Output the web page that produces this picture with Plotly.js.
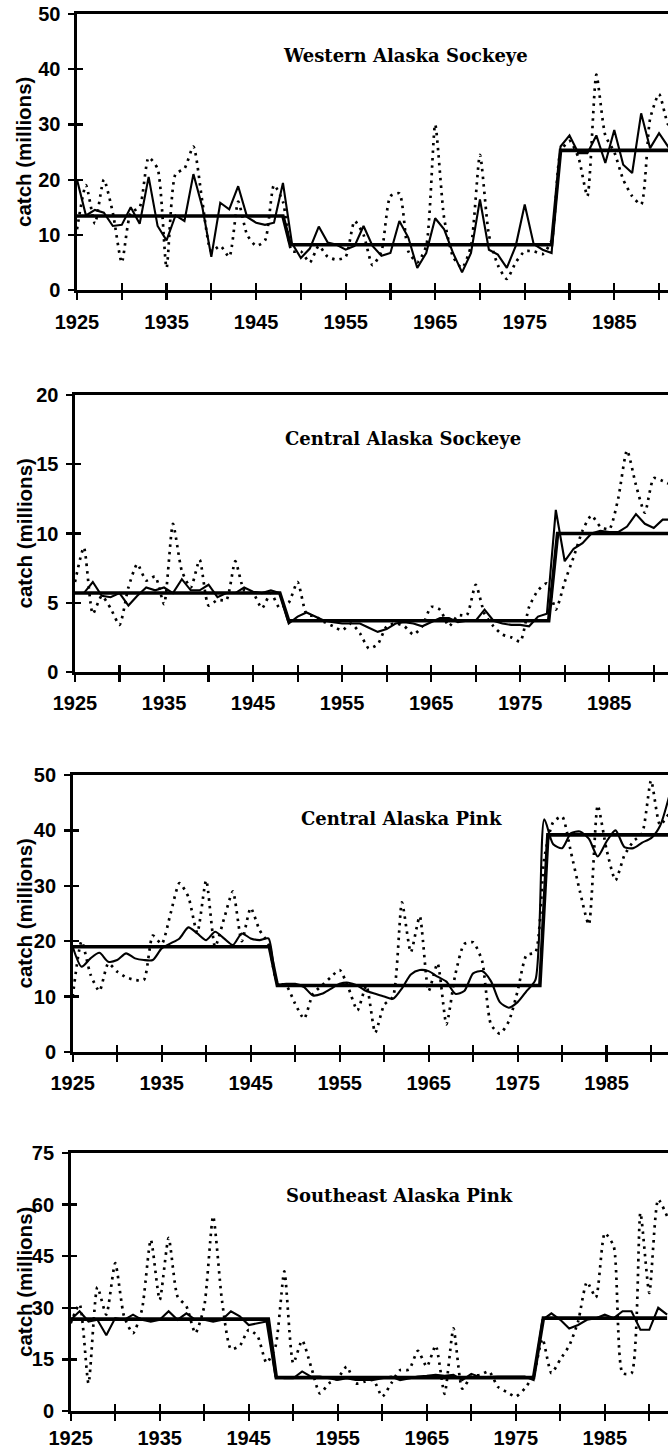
<!DOCTYPE html>
<html>
<head>
<meta charset="utf-8">
<script src="https://cdn.plot.ly/plotly-3.0.1.min.js"></script>
<style>html,body{margin:0;padding:0;background:#fff;} #chart{width:668px;height:1452px;}</style>
</head>
<body>
<div id="chart"></div>
<script>
// ---------- DATA ----------
var years = [];
for (var yr = 1925; yr <= 1992; yr++) years.push(yr);

var panelTitles = ["Western Alaska Sockeye", "Central Alaska Sockeye", "Central Alaska Pink", "Southeast Alaska Pink"];
var yAxisTitle = "catch (millions)";

// Western Alaska Sockeye (1925-1992)
var wasAnnual = [11,19,12,20,14,5,14,15,24,22,4,21,22,26,16,7,8,6,16,10,8,9,19,16,7,7,5,8,6,5.5,6,12.5,10,4.5,7,17,17.5,7,5,8,30,13,6,4,8,24.5,10,4.5,2,5,7,7,6.5,9,25,27,24,17,39,28,25,20,17,15.5,31,35.5,30,28];
var wasSmooth = [20,13.5,14.5,14,11.6,11.8,15,12,20.5,11.6,9,13.5,12.5,21,15,6,15.8,14.6,18.8,13.2,12.2,11.8,12.2,19.4,8.5,5.8,7.5,11.5,8.6,8.2,7.3,8,11.6,8,6.2,6.7,12.5,9.5,4,6.7,13,11,6.7,3.2,6.7,16.4,7.3,6.4,4,8,15.5,8.3,7.3,6.7,26,28,24.8,24.8,28,23,29,22.7,21.2,32,25.7,28.4,26,27];
var wasRegimeYears = [1925,1948,1948.8,1978,1979,1992];
var wasRegimeMeans = [13.4,13.4,8.2,8.2,25.3,25.3];

// Central Alaska Sockeye
var casAnnual = [6.5,9,4.2,5.5,4.6,3.4,6.1,7.8,6.6,6.9,4.9,10.7,7.3,6.1,8.1,4.8,5.2,5.2,8,5.9,5.7,4.6,5.7,4.6,5,6.5,4.2,4,3.6,3.3,3,3.5,2.8,1.7,2,3.3,3.5,3.3,2.7,3.3,4.7,4.5,3.3,4.1,4.1,6.3,4.2,3.3,2.7,2.5,2.2,4.7,5.9,6.4,4.5,6.5,8.3,10.2,11.3,10.5,10.3,12.5,16,13.5,11.5,14,13.8,13.5];
var casSmooth = [5.7,5.7,6.5,5.5,5.4,5.7,4.8,5.5,6.1,5.9,6.1,5.7,6.7,5.9,5.9,6.3,5.4,5.7,5.7,6.1,5.8,5.7,5.9,5.7,3.5,4,4.3,4,3.7,3.6,3.5,3.5,3.5,3.2,2.9,3.1,3.5,3.6,3.5,3.3,3.6,3.9,3.9,3.6,3.7,3.7,4.5,3.7,3.5,3.4,3.4,3.3,4,4.2,11.7,8,8.9,9.3,10,10.2,10.1,10.1,10.5,11.4,10.7,10.4,11,11];
var casRegimeYears = [1925,1948,1949,1978.2,1979.2,1992];
var casRegimeMeans = [5.7,5.7,3.7,3.7,10,10];

// Central Alaska Pink
var capAnnual = [10,20,14,11,16,14.5,13.5,13,13,21,19.5,25,30.5,28,21.5,31,19,24,29,20,26,22,19.5,12.5,12,8.7,6,10.5,12,13.5,14.8,11.5,7.5,12,3.5,8.5,10,27,18,24.5,11,16,5,14,19.5,19.8,16.5,5,3.3,5.5,11,17.5,18,35,41.5,42.5,36,29,23,44.5,36.5,31,35.5,38,39.5,49,41,43];
var capSmooth = [19,15.4,16.9,17.9,16.3,16.6,17.8,16.9,16.6,16.6,18.7,19.6,20.5,22.5,21.4,20.2,21.7,20.5,19.3,21.4,20.5,20.2,20.5,12.3,12.3,12.3,11.7,10.2,10.5,11.4,12.3,12.5,12,11,10.5,10,9.6,11.5,14,14.8,14.6,13.6,12.7,10.5,11,14.2,14.6,12.8,9,8,9,11,13,42,37.5,36.8,39.5,39.8,38.5,35.3,38,40,37,36.8,37.8,38.6,40.8,46];
var capRegimeYears = [1925,1947.1,1948,1977.5,1978.4,1992];
var capRegimeMeans = [19,19,12,12,39.2,39.2];

// Southeast Alaska Pink
var sapAnnual = [25.5,31,8,36,28,43,27.5,22.6,29.4,49.8,32.3,50.3,33.3,30.4,22.6,30.4,56.6,32,18,19,23.6,21.7,14,18.7,40.6,13.9,20.5,12.9,5.1,8,9.5,12.9,8,8.5,9,4.2,8,11.9,12,17.5,12.9,19,5,24,6.5,10,10.5,11.5,7,5.5,4.2,6.5,10.5,21,11,15,19,26,37.5,33,51.7,47.9,11,11,57.6,34.3,61.5,56.6];
var sapSmooth = [26.5,29,26,26.5,22,27,26.5,28,26.5,26,26.5,29,26.5,28.4,26.5,26.5,26,26.5,29,27.5,25,25.5,26,10,9.5,9.5,11.5,10,10,9.5,9,9.5,9,9,9,9.5,10,9,9.5,10,10.2,10.5,10.2,10.5,9,10.8,9.8,10,10,10,10,10,9,26.5,28.4,26.5,24,25,26.5,27,28,27,29,29,23.6,23.6,30,28];
var sapRegimeYears = [1925,1947.2,1948.1,1977,1978.1,1992];
var sapRegimeMeans = [26.7,26.7,9.7,9.7,27,27];

var xTickVals = [1925,1930,1935,1940,1945,1950,1955,1960,1965,1970,1975,1980,1985,1990];
var xTickText = ["1925","","1935","","1945","","1955","","1965","","1975","","1985",""];
var yTicks = [[0,10,20,30,40,50],[0,5,10,15,20],[0,10,20,30,40,50],[0,15,30,45,60,75]];
var yMax = [50,20,50,75];

// ---------- LAYOUT GEOMETRY ----------
var W = 668, H = 1452;
var panels = [
  {annual: wasAnnual, smooth: wasSmooth, ry: wasRegimeYears, rm: wasRegimeMeans, left: 77, xmax: 1991.0, top: 14, bottom: 290, tx: 405, ty: 56, smoothShape: 'linear', standoff: 5},
  {annual: casAnnual, smooth: casSmooth, ry: casRegimeYears, rm: casRegimeMeans, left: 75, xmax: 1991.6, top: 395, bottom: 672, tx: 403, ty: 438, smoothShape: 'linear', standoff: 4},
  {annual: capAnnual, smooth: capSmooth, ry: capRegimeYears, rm: capRegimeMeans, left: 72.7, xmax: 1991.9, top: 775, bottom: 1052, tx: 401, ty: 818, smoothShape: 'spline', standoff: 4},
  {annual: sapAnnual, smooth: sapSmooth, ry: sapRegimeYears, rm: sapRegimeMeans, left: 70.7, xmax: 1992.1, top: 1153, bottom: 1411, tx: 399, ty: 1195, smoothShape: 'linear', standoff: 0}
];

var tickFont = {family: 'Liberation Sans, Arial, sans-serif', size: 20, color: '#000', weight: 'bold'};
var traces = [];
var layout = {
  width: W, height: H,
  margin: {l: 0, r: 0, t: 0, b: 0},
  paper_bgcolor: '#fff', plot_bgcolor: 'rgba(0,0,0,0)',
  showlegend: false,
  annotations: []
};

panels.forEach(function (p, i) {
  var n = i + 1, o = i + 5;
  var xa = 'x' + n, ya = 'y' + n;
  traces.push({x: years, y: p.annual, xaxis: xa, yaxis: ya, mode: 'lines', hoverinfo: 'skip',
    line: {color: '#000', width: 2.7, dash: '2.5px,5px', shape: 'spline', smoothing: 0.6}});
  traces.push({x: years, y: p.smooth, xaxis: xa, yaxis: ya, mode: 'lines', hoverinfo: 'skip',
    line: {color: '#000', width: 2.1, shape: p.smoothShape, smoothing: 0.7}});
  traces.push({x: p.ry, y: p.rm, xaxis: xa, yaxis: ya, mode: 'lines', hoverinfo: 'skip',
    line: {color: '#000', width: 3.6}});
  // empty traces so the overlay tick axes are instantiated
  traces.push({x: [null], y: [null], xaxis: 'x' + o, yaxis: ya, mode: 'lines', hoverinfo: 'skip', showlegend: false});
  traces.push({x: [null], y: [null], xaxis: xa, yaxis: 'y' + o, mode: 'lines', hoverinfo: 'skip', showlegend: false});

  var xdom = [p.left / W, 1];
  var ydom = [1 - p.bottom / H, 1 - p.top / H];
  var common = {showgrid: false, zeroline: false, linecolor: '#000', tickcolor: '#000', tickwidth: 2.2};
  layout['xaxis' + n] = Object.assign({}, common, {
    domain: xdom, anchor: ya, range: [1925, p.xmax],
    showline: true, linewidth: 2.6, mirror: true,
    tickmode: 'array', tickvals: xTickVals, ticktext: xTickText,
    ticks: 'outside', ticklen: 7, tickfont: tickFont, ticklabelstandoff: p.standoff
  });
  layout['yaxis' + n] = Object.assign({}, common, {
    domain: ydom, anchor: xa, range: [0, yMax[i]],
    showline: true, linewidth: 2.6,
    tickmode: 'array', tickvals: yTicks[i],
    ticks: 'outside', ticklen: 6, tickfont: tickFont, ticklabelstandoff: 4
  });
  // overlay axes: tick marks on the inner side so ticks cross the axis line
  layout['xaxis' + o] = Object.assign({}, common, {
    overlaying: xa, anchor: ya, range: [1925, p.xmax], showline: false,
    tickmode: 'array', tickvals: xTickVals, showticklabels: false,
    ticks: 'inside', ticklen: 7
  });
  layout['yaxis' + o] = Object.assign({}, common, {
    overlaying: ya, anchor: xa, range: [0, yMax[i]], showline: false,
    tickmode: 'array', tickvals: yTicks[i], showticklabels: false,
    ticks: 'inside', ticklen: 6
  });

  layout.annotations.push({
    text: panelTitles[i], xref: 'paper', yref: 'paper',
    x: p.tx / W, y: 1 - p.ty / H, xanchor: 'center', yanchor: 'middle', showarrow: false,
    font: {family: 'DejaVu Serif, serif', size: 18, color: '#000', weight: 'bold'}
  });
  layout.annotations.push({
    text: yAxisTitle, xref: 'paper', yref: 'paper', textangle: -90,
    x: 24 / W, y: 1 - (p.top + p.bottom) / 2 / H, xanchor: 'center', yanchor: 'middle', showarrow: false,
    font: {family: 'Liberation Sans, Arial, sans-serif', size: 20.5, color: '#000', weight: 'bold'}
  });
});

Plotly.newPlot('chart', traces, layout, {staticPlot: true, displayModeBar: false});
</script>
</body>
</html>
